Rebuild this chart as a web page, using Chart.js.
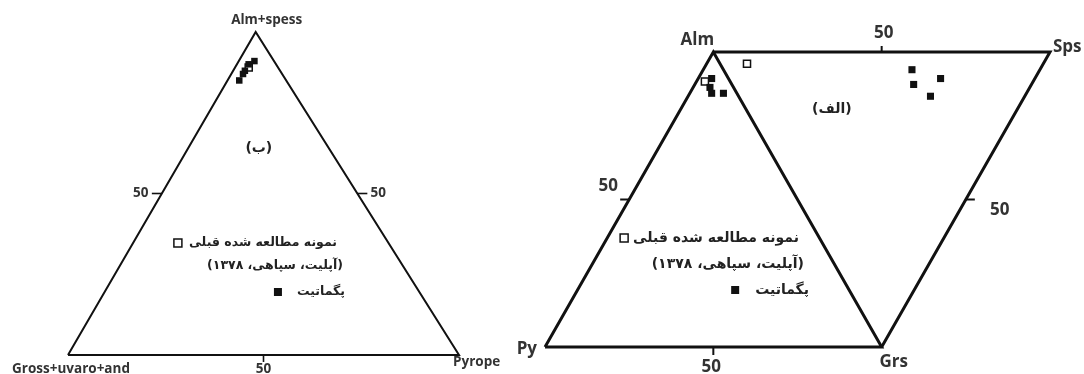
<!DOCTYPE html>
<html>
<head>
<meta charset="utf-8">
<script src="https://cdn.jsdelivr.net/npm/chart.js@4"></script>
<style>
  body { margin: 0; background: #fff; width: 1084px; height: 374px; overflow: hidden; position: relative; }
  .wrap { position: absolute; top: 0; height: 374px; }
  #wrapLeft { left: 0; width: 510px; }
  #wrapRight { left: 510px; width: 574px; }
</style>
</head>
<body>
<div class="wrap" id="wrapLeft"><canvas id="leftChart" width="510" height="374"></canvas></div>
<div class="wrap" id="wrapRight"><canvas id="rightChart" width="574" height="374"></canvas></div>
<script>
// ---- data (mole %) ----
// diagram (ب): Alm+spess / Gross+uvaro+and / Pyrope
const leftVertexLabels = ['Alm+spess', 'Gross+uvaro+and', 'Pyrope'];
const leftPegAlmSps = [91, 90, 88, 87, 85];
const leftPegGross  = [5, 7, 9, 10, 12];
const leftPegPyrope = [4, 3, 3, 3, 3];
const leftPrevAlmSps = [89];
const leftPrevGross  = [7.5];
const leftPrevPyrope = [3.5];

// diagram (الف): Alm-Py-Grs and Alm-Sps-Grs triangles
const rightVertexLabels = ['Alm', 'Sps', 'Py', 'Grs'];
const pegAlmA = [91, 88, 86, 86];
const pegPyA  = [5, 7, 7.5, 4];
const pegGrsA = [4, 5, 6.5, 10];
const prevAlmA = [90];
const prevPyA  = [7.5];
const prevGrsA = [2.5];
const pegAlmB = [38, 28, 35, 28];
const pegSpsB = [56, 63, 54, 57];
const pegGrsB = [6, 9, 11, 15];
const prevAlmB = [88];
const prevSpsB = [8];
const prevGrsB = [4];

const tickValue = '50';
const legendLines = ['نمونه مطالعه شده قبلی', '(آپلیت، سپاهی، ۱۳۷۸)', 'پگماتیت'];

// ---- ternary -> cartesian ----
const LEFT_APEX = 0.48;
function leftXY(alm, gross, pyr) {
  return { x: pyr / 100 + LEFT_APEX * alm / 100, y: alm / 100 };
}
// lower triangle: Py at origin, Grs at (1,0), Alm at (0.5,1)
function lowerXY(alm, py, grs) {
  return { x: grs / 100 + 0.5 * alm / 100, y: alm / 100 };
}
// upper triangle: Alm (0.5,1), Sps (1.5,1), Grs (1,0)
function upperXY(alm, sps, grs) {
  return { x: 0.5 * alm / 100 + 1.5 * sps / 100 + grs / 100, y: (alm + sps) / 100 };
}
function toPoints(fn, a, b, c) {
  return a.map((v, i) => fn(v, b[i], c[i]));
}

const INK = '#111';
const TXT = '#333';

function openSquare(pts, r) {
  return {
    type: 'scatter', data: pts, clip: false,
    pointStyle: 'rect', pointRadius: r, borderWidth: 1.5,
    borderColor: INK, backgroundColor: '#fff'
  };
}
function filledSquare(pts, r) {
  return {
    type: 'scatter', data: pts, clip: false,
    pointStyle: 'rect', pointRadius: r, borderWidth: 0,
    borderColor: INK, backgroundColor: INK
  };
}
function outline(pts, w) {
  return {
    type: 'line', data: pts, clip: false, showLine: true,
    borderColor: INK, borderWidth: w, pointRadius: 0, tension: 0,
    fill: false, borderJoinStyle: 'miter'
  };
}

// draws vertex names, 50 ticks, panel tag and the legend
const annotate = {
  id: 'annotate',
  afterDatasetsDraw(chart, args, opts) {
    const ctx = chart.ctx;
    const sx = chart.scales.x, sy = chart.scales.y;
    const px = p => ({ x: sx.getPixelForValue(p.x), y: sy.getPixelForValue(p.y) });
    ctx.save();
    ctx.fillStyle = TXT;
    ctx.textBaseline = 'middle';

    opts.vertices.forEach(v => {
      const p = px(v.at);
      ctx.font = opts.vertexFont;
      ctx.textAlign = v.align || 'center';
      ctx.fillText(v.text, p.x + v.dx, p.y + v.dy);
    });

    ctx.strokeStyle = INK;
    ctx.lineWidth = opts.tickWidth;
    opts.ticks.forEach(t => {
      const a = px(t.from), b = px(t.to);
      const m = { x: (a.x + b.x) / 2, y: (a.y + b.y) / 2 };
      const e = { x: m.x + t.tx, y: m.y + t.ty };
      ctx.beginPath();
      ctx.moveTo(m.x, m.y);
      ctx.lineTo(e.x, e.y);
      ctx.stroke();
      ctx.font = opts.tickFont;
      ctx.textAlign = 'center';
      ctx.fillText(tickValue, e.x + t.lx, e.y + t.ly);
    });

    const tag = px(opts.tag.at);
    ctx.font = opts.tagFont;
    ctx.direction = 'rtl';
    ctx.textAlign = 'center';
    ctx.fillStyle = '#222';
    ctx.fillText(opts.tag.text, tag.x, tag.y);

    // legend
    const lg = opts.legend;
    ctx.font = opts.persianFont;
    ctx.textAlign = 'right';
    legendLines.forEach((line, i) => {
      const row = lg.rows[i];
      ctx.fillText(line, row.right, row.y);
      if (row.marker) {
        const w = ctx.measureText(line).width;
        const cx = row.right - w - row.gap;
        const s = lg.size;
        if (row.marker === 'open') {
          ctx.fillStyle = '#fff';
          ctx.fillRect(cx - s / 2, row.y - s / 2, s, s);
          ctx.lineWidth = 1.5;
          ctx.strokeRect(cx - s / 2, row.y - s / 2, s, s);
        } else {
          ctx.fillStyle = INK;
          ctx.fillRect(cx - s / 2, row.y - s / 2, s, s);
        }
        ctx.fillStyle = '#222';
      }
    });
    ctx.restore();
  }
};

function baseOptions(xMax, padding, annot) {
  return {
    responsive: false,
    animation: false,
    events: [],
    layout: { padding: padding },
    scales: {
      x: { type: 'linear', min: 0, max: xMax, display: false },
      y: { type: 'linear', min: 0, max: 1, display: false }
    },
    plugins: { legend: { display: false }, tooltip: { enabled: false }, annotate: annot }
  };
}

// ---- left diagram (ب) ----
const lAlm = leftXY(100, 0, 0), lGross = leftXY(0, 100, 0), lPyr = leftXY(0, 0, 100);
new Chart(document.getElementById('leftChart'), {
  type: 'scatter',
  data: {
    datasets: [
      outline([lGross, lPyr, lAlm, lGross], 2),
      filledSquare(toPoints(leftXY, leftPegAlmSps, leftPegGross, leftPegPyrope), 4.6),
      openSquare(toPoints(leftXY, leftPrevAlmSps, leftPrevGross, leftPrevPyrope), 5)
    ]
  },
  options: baseOptions(1, { left: 68, right: 51, top: 32, bottom: 19 }, {
    vertexFont: 'bold 13.5px "Open Sans", "DejaVu Sans", sans-serif',
    tickFont: 'bold 13.5px "Open Sans", "DejaVu Sans", sans-serif',
    persianFont: 'bold 12.5px "DejaVu Sans", sans-serif',
    tagFont: 'bold 14px "DejaVu Sans", sans-serif',
    tickWidth: 1.6,
    vertices: [
      { text: leftVertexLabels[0], at: lAlm, dx: 11, dy: -12 },
      { text: leftVertexLabels[1], at: lGross, dx: 3, dy: 14 },
      { text: leftVertexLabels[2], at: lPyr, dx: -6, dy: 7, align: 'left' }
    ],
    ticks: [
      { from: lGross, to: lAlm, tx: -10, ty: 0, lx: -11, ly: 0 },
      { from: lPyr, to: lAlm, tx: 10, ty: 0, lx: 11, ly: 0 },
      { from: lGross, to: lPyr, tx: 0, ty: 7, lx: 0, ly: 7 }
    ],
    tag: { text: '(ب)', at: { x: 0.488, y: 0.64 } },
    legend: {
      size: 8,
      rows: [
        { right: 337, y: 243, marker: 'open', gap: 11 },
        { right: 343, y: 266 },
        { right: 345, y: 292, marker: 'filled', gap: 19 }
      ]
    }
  }),
  plugins: [annotate]
});

// ---- right diagram (الف) ----
const rAlm = lowerXY(100, 0, 0), rPy = lowerXY(0, 100, 0), rGrs = lowerXY(0, 0, 100);
const rSps = upperXY(0, 100, 0);
new Chart(document.getElementById('rightChart'), {
  type: 'scatter',
  data: {
    datasets: [
      outline([rPy, rGrs, rAlm, rPy], 3),
      outline([rAlm, rSps, rGrs], 3),
      filledSquare(toPoints(lowerXY, pegAlmA, pegPyA, pegGrsA), 5),
      openSquare(toPoints(lowerXY, prevAlmA, prevPyA, prevGrsA), 5),
      filledSquare(toPoints(upperXY, pegAlmB, pegSpsB, pegGrsB), 5),
      openSquare(toPoints(upperXY, prevAlmB, prevSpsB, prevGrsB), 5)
    ]
  },
  options: baseOptions(1.5, { left: 35, right: 34, top: 52, bottom: 27 }, {
    vertexFont: 'bold 17px "Open Sans", "DejaVu Sans", sans-serif',
    tickFont: 'bold 17px "Open Sans", "DejaVu Sans", sans-serif',
    persianFont: 'bold 14px "DejaVu Sans", sans-serif',
    tagFont: 'bold 14px "DejaVu Sans", sans-serif',
    tickWidth: 2,
    vertices: [
      { text: rightVertexLabels[0], at: rAlm, dx: -16, dy: -12 },
      { text: rightVertexLabels[1], at: rSps, dx: 3, dy: -5, align: 'left' },
      { text: rightVertexLabels[2], at: rPy, dx: -8, dy: 2, align: 'right' },
      { text: rightVertexLabels[3], at: rGrs, dx: 12, dy: 15 }
    ],
    ticks: [
      { from: rAlm, to: rSps, tx: 0, ty: -6, lx: 2, ly: -13 },
      { from: rPy, to: rAlm, tx: -9, ty: 0, lx: -12, ly: -13 },
      { from: rSps, to: rGrs, tx: 9, ty: 0, lx: 25, ly: 11 },
      { from: rPy, to: rGrs, tx: 0, ty: 8, lx: -2, ly: 12 }
    ],
    tag: { text: '(الف)', at: { x: 0.852, y: 0.807 } },
    legend: {
      size: 8,
      rows: [
        { right: 289, y: 238, marker: 'open', gap: 9 },
        { right: 294, y: 264 },
        { right: 299, y: 290, marker: 'filled', gap: 20 }
      ]
    }
  }),
  plugins: [annotate]
});
</script>
</body>
</html>
